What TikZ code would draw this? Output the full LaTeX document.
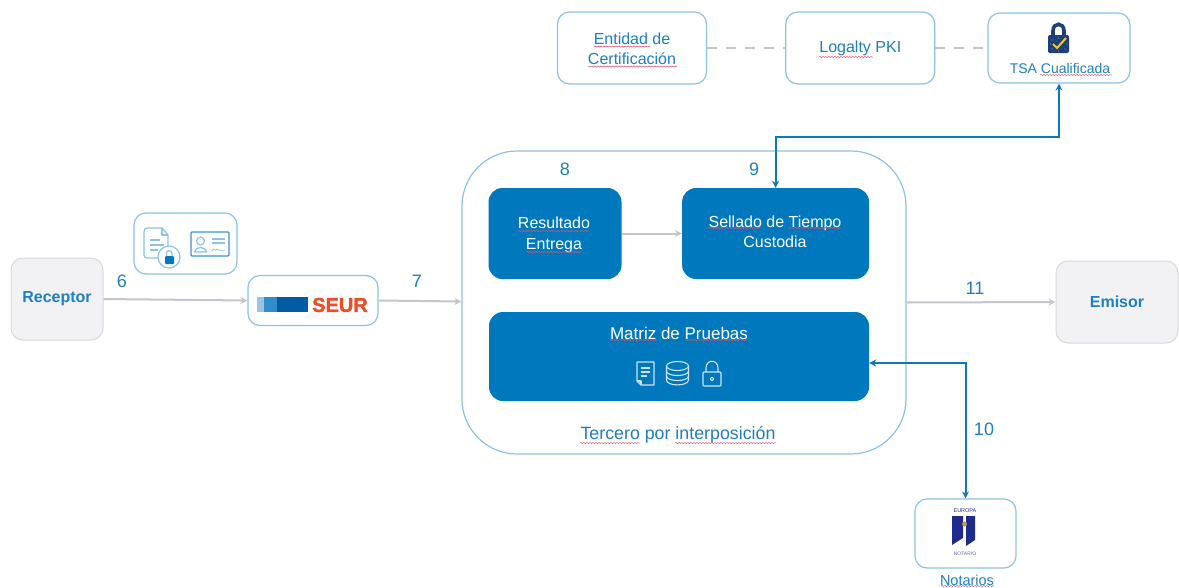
\documentclass[tikz,border=0pt]{standalone}
\usepackage{fontspec}
\setmainfont{Liberation Sans}
\usetikzlibrary{arrows.meta,decorations.pathmorphing}
\definecolor{bluetxt}{HTML}{1E7FC4}
\definecolor{edgeblue}{HTML}{8CC3E9}
\definecolor{solidblue}{HTML}{0078BE}
\definecolor{linkblue}{HTML}{0F77BC}
\definecolor{greyline}{HTML}{C6C4CC}
\definecolor{greybox}{HTML}{F2F2F5}
\definecolor{greyedge}{HTML}{D9D9DD}
\definecolor{navy}{HTML}{1E3F78}
\definecolor{flagblue}{HTML}{1E2A8C}
\definecolor{seurred}{HTML}{EE4B26}
\definecolor{squigred}{HTML}{E2506A}
\definecolor{checkyellow}{HTML}{F5C81E}
\definecolor{sealtan}{HTML}{BE965A}
\definecolor{seurA}{HTML}{9CC3E6}
\definecolor{seurB}{HTML}{2F8DCB}
\definecolor{seurC}{HTML}{005BA4}
\newfontfamily\seurfont[FakeBold=1.5]{Liberation Sans Bold}
\newcommand{\fs}[2]{\fontsize{#1}{#2}\selectfont}
\tikzset{
  whitebox/.style={draw=edgeblue,line width=1.2pt,fill=white,rounded corners=12pt,inner sep=0pt,align=center,text=bluetxt,font=\fs{16}{20}},
  solidbox/.style={draw=none,fill=solidblue,rounded corners=14pt,inner sep=0pt,align=center,text=white,font=\fs{16}{20}},
  partybox/.style={draw=greyedge,line width=1pt,fill=greybox,rounded corners=12pt,inner sep=0pt,align=center,text=bluetxt,font=\fs{16}{20}\bfseries},
  numlabel/.style={text=bluetxt,font=\fs{18}{20},inner sep=0pt},
  bluelabel/.style={text=bluetxt,inner sep=0pt},
  boxtext/.style={inner sep=0pt,align=center,font=\fs{16}{20}},
  greyarrow/.style={draw=greyline,line width=2pt,-{Stealth[length=7pt,width=7pt]}},
  greydash/.style={draw=greyline,line width=1.6pt,dash pattern=on 10pt off 9pt},
  bluelink/.style={draw=linkblue,line width=2pt,{Stealth[length=7pt,width=7pt]}-{Stealth[length=7pt,width=7pt]}},
  squig/.style={draw=squigred,line width=0.5pt,decorate,decoration={snake,amplitude=0.5pt,segment length=3pt}},
  iconline/.style={draw=edgeblue,line width=1.2pt,line join=round},
  iconwhite/.style={draw=white!80!solidblue,line width=1.1pt,line join=round},
}
\begin{document}
\begin{tikzpicture}[x=1pt,y=-1pt]
\useasboundingbox (0,0) rectangle (1179,587);
\fill[white] (0,0) rectangle (1179,587);
% outer frame
\node[whitebox,rounded corners=55pt,minimum width=444pt,minimum height=303pt] (tercero) at (684,302.5) {};
% top row
\node[whitebox,minimum width=149pt,minimum height=72pt] (entidad) at (632,48) {};
\node[boxtext,text=bluetxt] (entidadtxt) at (632,49) {Entidad de\\Certificación};
\node[whitebox,minimum width=149pt,minimum height=72pt] (logalty) at (860.3,48) {Logalty PKI};
\node[whitebox,minimum width=142pt,minimum height=70pt] (tsa) at (1059,48) {};
\node[bluelabel,font=\fs{14}{16}] (tsatxt) at (1060,68) {TSA Cualificada};
% parties
\node[partybox,minimum width=92pt,minimum height=82pt] (receptor) at (57,299) {Receptor};
\node[partybox,minimum width=122pt,minimum height=82pt] (emisor) at (1117,302) {Emisor};
% small boxes
\node[whitebox,minimum width=103pt,minimum height=61pt] (docs) at (185.5,243.5) {};
\node[whitebox,minimum width=130pt,minimum height=50pt] (seur) at (313,300.5) {};
\node[whitebox,minimum width=101pt,minimum height=69pt] (notarios) at (965.5,533.5) {};
\node[bluelabel,font=\fs{14.5}{16}] (notxt) at (967,580) {Notarios};
% inner boxes
\node[solidbox,minimum width=133pt,minimum height=91pt] (resultado) at (555,233.5) {};
\node[boxtext,text=white,font=\fs{16}{21}] (resultadotxt) at (554,235) {Resultado\\Entrega};
\node[solidbox,minimum width=187pt,minimum height=91pt] (sellado) at (775.6,233.5) {};
\node[boxtext,text=white,font=\fs{16}{19.5}] (selladotxt) at (775,232) {Sellado de Tiempo\\Custodia};
\node[solidbox,minimum width=380pt,minimum height=89pt] (matriz) at (679,356.5) {};
\node[text=white,inner sep=0pt,font=\fs{17}{20}] (matriztxt) at (679,333) {Matriz de Pruebas};
\node[bluelabel,font=\fs{17.8}{20}] (tertxt) at (678,434.5) {Tercero por interposición};
% numbers
\node[numlabel] (n6) at (122,281) {6};
\node[numlabel] (n7) at (417,281) {7};
\node[numlabel] (n8) at (565,169) {8};
\node[numlabel] (n9) at (754,169) {9};
\node[numlabel] (n10) at (984,429) {10};
\node[numlabel] (n11) at (975,288) {11};
% connectors
\draw[greydash] (entidad.east) -- (logalty.west);
\draw[greydash] (logalty.east) -- (tsa.west);
\draw[greyarrow] (receptor.east) -- (seur.west);
\draw[greyarrow] (seur.east) -- ([yshift=1pt]tercero.west);
\draw[greyarrow] (tercero.east) -- (emisor.west);
\draw[greyarrow] (resultado.east) -- (sellado.west);
\draw[bluelink] (tsa.south) -- ++(0,53) -| (sellado.north);
\draw[bluelink] ([yshift=-6.5pt]matriz.east) -| (notarios.north);
% SEUR logo
\fill[seurA] (257,297) rectangle (264,312);
\fill[seurB] (264,297) rectangle (277,312);
\fill[seurC] (277,297) rectangle (308,312);
\node[text=seurred,inner sep=0pt,font=\seurfont\fs{20}{20}] (seurtxt) at (340,305) {SEUR};
% doc + lock icon
\draw[iconline] (162,228) -- (148,228) .. controls (145,228) and (144,229) .. (144,232) -- (144,255) .. controls (144,257) and (145,258) .. (148,258) -- (160,258);
\draw[iconline] (162,228) -- (168,235) -- (168,246);
\draw[iconline] (162,228) -- (162,235) -- (168,235);
\draw[iconline] (150,240) -- (160,240) (150,245) -- (164,245) (150,250) -- (158,250);
\draw[iconline,fill=white] (169,257) circle (11);
\fill[solidblue,rounded corners=1pt] (165,256) rectangle (174,264);
\draw[edgeblue,line width=1.2pt] (166.5,256) -- (166.5,253) .. controls (166.5,250) and (172,250) .. (172,253) -- (172,256);
% id card icon
\draw[draw=bluetxt!70!edgeblue,line width=1.2pt,rounded corners=1pt] (191,232) rectangle (229,256);
\draw[iconline] (200.5,241) circle (4);
\draw[iconline] (194.5,252) .. controls (195,246) and (206,246) .. (206.5,252) -- cycle;
\draw[iconline] (212,239) -- (225,239) (212,243) -- (225,243);
\draw[iconline,line width=0.7pt] (212,251) .. controls (214,246) and (215,253) .. (217,249) .. controls (218,250) and (220,251) .. (225,250);
% TSA lock icon
\draw[navy,line width=3.6pt] (1053,36) -- (1053,31) .. controls (1053,22) and (1064,22) .. (1064,31) -- (1064,36);
\fill[navy,rounded corners=2pt] (1048,35) rectangle (1069,53);
\foreach \sx/\sy in {1058.5/38,1052/40,1065/40,1050.5/44,1067/44,1052/49,1065/49,1058.5/51}
  \fill[white!70!navy] (\sx,\sy) circle (0.5);
\draw[checkyellow,line width=2pt] (1053,44) -- (1057,48) -- (1066,38);
% notary logo
\node[text=flagblue,inner sep=0pt,font=\fs{5.5}{6}] (nteur) at (965,511) {EUROPA};
\node[text=flagblue!70!white,inner sep=0pt,font=\fs{5}{6}] (ntnot) at (965,554) {NOTARIO};
\fill[flagblue] (952,516) -- (963,516) -- (963,538) -- (952,545) -- cycle;
\fill[flagblue] (966,516) -- (975,516) -- (975,540) -- (966,546) -- cycle;
\fill[sealtan] (964.5,524) circle (2.5);
% matrix icons
\draw[iconwhite] (654,362) -- (637,362) -- (637,381) -- (641,385) -- (654,385) -- cycle;
\draw[iconwhite] (637,381) -- (641,381) -- (641,385);
\draw[iconwhite] (641,368) -- (650,368) (641,372) -- (650,372) (641,376) -- (647,376);
\draw[iconwhite] (677.5,366) ellipse (11 and 4.5);
\draw[iconwhite] (666.5,366) -- (666.5,380) .. controls (666.5,386.5) and (688.5,386.5) .. (688.5,380) -- (688.5,366);
\draw[iconwhite] (666.5,371) .. controls (666.5,377) and (688.5,377) .. (688.5,371);
\draw[iconwhite] (666.5,376) .. controls (666.5,382) and (688.5,382) .. (688.5,376);
\draw[iconwhite,rounded corners=1pt] (703,372) rectangle (721,386);
\draw[iconwhite] (706,372) -- (706,368) .. controls (706,359) and (718,359) .. (718,368) -- (718,372);
\draw[iconwhite] (712,379) circle (1.8);
% spell-check underlines
\draw[squig] (594,46.5) -- (650,46.5);
\draw[squig] (588,66.5) -- (677,66.5);
\draw[squig] (819,57) -- (873,57);
\draw[squig] (1040,75) -- (1112,75);
\draw[squig] (518,231) -- (590,231);
\draw[squig] (526,252) -- (582,252);
\draw[squig] (708,228) -- (761,228);
\draw[squig] (788,228) -- (841,228);
\draw[squig] (610,340) -- (657,340);
\draw[squig] (685,340) -- (748,340);
\draw[squig] (580,443) -- (640,443);
\draw[squig] (675,443) -- (776,443);
\draw[squig] (941,586) -- (994,586);
\end{tikzpicture}
\end{document}
